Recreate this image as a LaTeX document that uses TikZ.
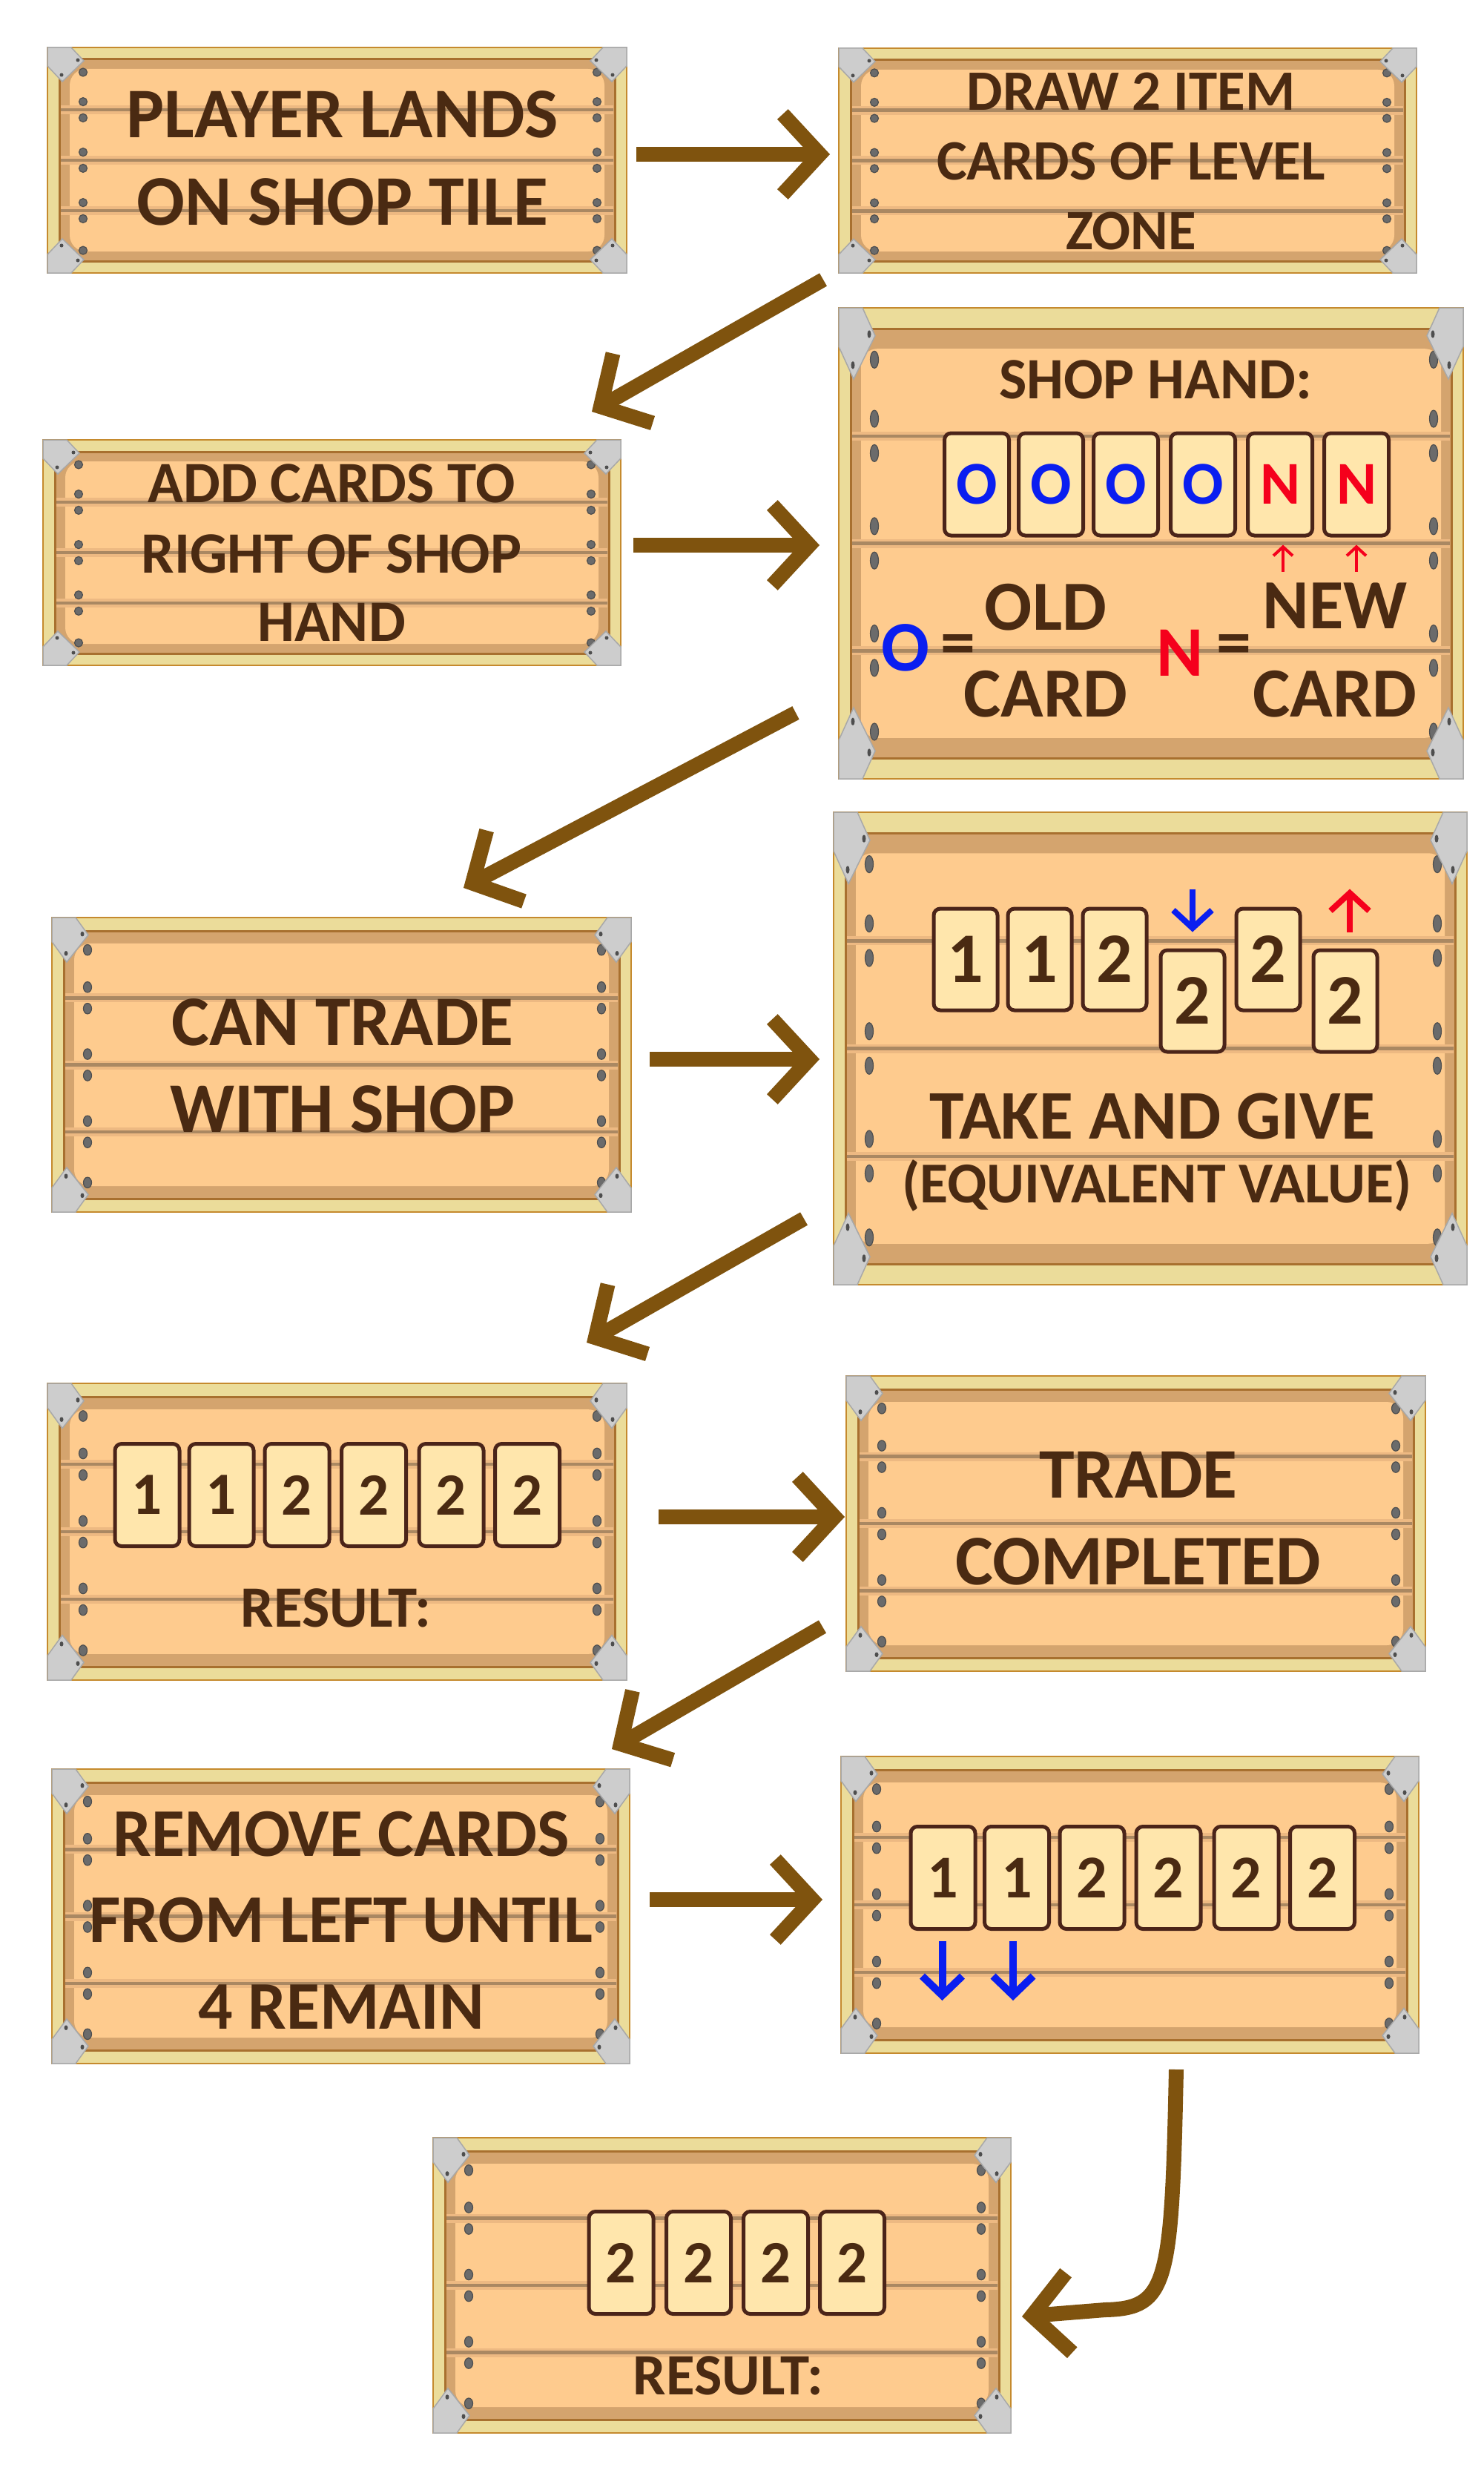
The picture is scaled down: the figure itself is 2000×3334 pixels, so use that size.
\documentclass[tikz,border=0pt]{standalone}
\usepackage{fontspec}
\setmainfont{Carlito}
\usetikzlibrary{arrows.meta,calc}
\definecolor{framefill}{HTML}{EBDC9A}
\definecolor{frameedge}{HTML}{C58A2E}
\definecolor{rimcol}{HTML}{D4A46E}
\definecolor{boardcol}{HTML}{FECB8E}
\definecolor{plankcol}{HTML}{AA8862}
\definecolor{halocol}{HTML}{EDB982}
\definecolor{innercol}{HTML}{A8702F}
\definecolor{nailcol}{HTML}{6B6B6B}
\definecolor{naildark}{HTML}{4E4E4E}
\definecolor{brackcol}{HTML}{CDCDCD}
\definecolor{brackedge}{HTML}{A8A8A8}
\definecolor{textbrown}{HTML}{4A2A12}
\definecolor{cardfill}{HTML}{FFE6AC}
\definecolor{cardedge}{HTML}{4B2419}
\definecolor{arrowbrown}{HTML}{7F530E}
\definecolor{cardblue}{HTML}{0A1EF0}
\definecolor{cardred}{HTML}{F5001C}

\newcommand{\wbfont}[1]{\fontsize{#1pt}{#1pt}\selectfont\bfseries}

\newcommand{\wbbracket}[4]{%
  \begin{scope}[shift={(#1,#2)}, xscale=#3, yscale=#4]
    \filldraw[fill=brackcol, draw=brackedge, line width=1.5pt] (0,0) -- (32,0) -- (49,18) -- (20,46) -- (0,25) -- cycle;
    \fill[naildark] (41,17) circle (2.5);
    \fill[naildark] (19,37) circle (2.5);
  \end{scope}}

\newcommand{\wbnail}[2]{\filldraw[fill=nailcol, draw=naildark, line width=1.2pt] (#1,#2) ellipse [x radius=5.5, y radius=\wbny];}

\newcommand{\woodboard}[6]{%
  \pgfmathsetmacro{\wbW}{#4-#2}%
  \pgfmathsetmacro{\wbH}{#5-#3}%
  \pgfmathsetmacro{\wbs}{\wbH/304}%
  \pgfmathsetmacro{\wbms}{-\wbs}%
  \pgfmathsetmacro{\wbix}{#2+16}%
  \pgfmathsetmacro{\wbiX}{#4-16}%
  \pgfmathsetmacro{\wbiy}{#3+#6}%
  \pgfmathsetmacro{\wbiY}{#5-#6}%
  \pgfmathsetmacro{\wbph}{(\wbiY-\wbiy)/4}%
  \pgfmathsetmacro{\wbny}{5.5*\wbs}%
  \filldraw[fill=framefill, draw=frameedge, line width=2pt] (#2,#3) rectangle (#4,#5);
  \fill[rimcol] (\wbix,\wbiy) rectangle (\wbiX,\wbiY);
  \fill[boardcol, rounded corners=22pt] (\wbix+14,\wbiy+13*\wbs) rectangle (\wbiX-14,\wbiY-13*\wbs);
  \draw[innercol, line width=3pt] (\wbix,\wbiy) rectangle (\wbiX,\wbiY);
  \foreach \k in {1,2,3}{%
    \pgfmathsetmacro{\wbly}{\wbiy+\k*\wbph}%
    \pgfmathsetmacro{\wbla}{\wbly-0.16*\wbph}%
    \pgfmathsetmacro{\wblb}{\wbly+0.16*\wbph}%
    \draw[halocol, line width=12pt] (\wbix+2,\wbly) -- (\wbiX-2,\wbly);
    \draw[plankcol, line width=4.5pt] (\wbix+2,\wbly) -- (\wbiX-2,\wbly);
    \wbnail{#2+48}{\wbla}\wbnail{#2+48}{\wblb}%
    \wbnail{#4-40}{\wbla}\wbnail{#4-40}{\wblb}%
  }%
  \wbnail{#2+48}{#3+0.11*\wbH}\wbnail{#4-40}{#3+0.11*\wbH}%
  \wbnail{#2+48}{#5-0.1*\wbH}\wbnail{#4-40}{#5-0.1*\wbH}%
  \wbbracket{#2}{#3}{1}{\wbs}%
  \wbbracket{#4}{#3}{-1}{\wbs}%
  \wbbracket{#2}{#5}{1}{\wbms}%
  \wbbracket{#4}{#5}{-1}{\wbms}%
  \node[inner sep=0pt, outer sep=0pt, minimum width=\wbW pt, minimum height=\wbH pt] (#1) at ({(#2+#4)/2},{(#3+#5)/2}) {};
}

\begin{document}
\begin{tikzpicture}[x=1pt,y=-1pt,
  wbtext/.style={anchor=base, inner sep=0pt, text=textbrown},
  card/.style={draw=cardedge, fill=cardfill, line width=5pt, rounded corners=9pt, inner sep=0pt,
    minimum width=87pt, minimum height=138pt, text=textbrown},
  bigarrow/.style={draw=arrowbrown, line width=20pt, -{Straight Barb[length=50pt,width=108pt,sharp]}},
  bluearrow/.style={draw=cardblue, line width=8pt, -{Straight Barb[length=24pt,width=52pt,sharp]}},
  bluearrowb/.style={draw=cardblue, line width=10pt, -{Straight Barb[length=26pt,width=54pt,sharp]}},
  redarrow/.style={draw=cardred, line width=8pt, -{Straight Barb[length=24pt,width=52pt,sharp]}},
  redsmall/.style={draw=cardred, line width=4pt, -{Straight Barb[length=12pt,width=26pt,sharp]}}]

\fill[white] (0,0) rectangle (2000,3334);
\useasboundingbox (0,0) rectangle (2000,3334);

% ---------- boards ----------
\woodboard{b1}{64}{64}{845}{368}{16}
\woodboard{b2}{1131}{65}{1910}{368}{16}
\woodboard{b3}{58}{593}{837}{897}{16}
\woodboard{b4}{1131}{415}{1973}{1050}{28}
\woodboard{b5}{70}{1237}{851}{1634}{18}
\woodboard{b6}{1124}{1095}{1978}{1732}{28}
\woodboard{b7}{64}{1865}{845}{2265}{18}
\woodboard{b8}{1141}{1855}{1922}{2253}{18}
\woodboard{b9}{70}{2385}{849}{2782}{18}
\woodboard{b10}{1134}{2368}{1913}{2768}{18}
\woodboard{b11}{584}{2882}{1363}{3280}{18}

% ---------- texts ----------
\node[wbtext, font=\wbfont{96}] (t1a) at (462,186) {PLAYER LANDS};
\node[wbtext, font=\wbfont{96}] (t1b) at (462,303) {ON SHOP TILE};

\node[wbtext, font=\wbfont{77}] (t2a) at (1525,149) {DRAW 2 ITEM};
\node[wbtext, font=\wbfont{77}] (t2b) at (1525,243) {CARDS OF LEVEL};
\node[wbtext, font=\wbfont{77}] (t2c) at (1525,336) {ZONE};

\node[wbtext, font=\wbfont{79}] (t3a) at (447,677) {ADD CARDS TO};
\node[wbtext, font=\wbfont{79}] (t3b) at (447,772) {RIGHT OF SHOP};
\node[wbtext, font=\wbfont{79}] (t3c) at (447,864) {HAND};

\node[wbtext, font=\wbfont{79}] (t4a) at (1558,537) {SHOP HAND:};
\foreach \cx/\t/\c [count=\i] in {1317/O/cardblue, 1417/O/cardblue, 1518/O/cardblue, 1622/O/cardblue, 1726/N/cardred, 1829/N/cardred}
  {\node[card, text=\c, font=\wbfont{82}] (c4\i) at (\cx,653) {\t};}
\draw[redsmall] ($(c45.south)+(4,46)$) -- ($(c45.south)+(4,10)$);
\draw[redsmall] ($(c46.south)+(0,46)$) -- ($(c46.south)+(0,10)$);
\node[wbtext, font=\wbfont{96}, text=cardblue] (t4o) at (1221,904) {O};
\node[inner sep=0pt, text=textbrown, font=\wbfont{94}] (t4e1) at (1292,877) {=};
\node[wbtext, font=\wbfont{95}] (t4b) at (1410,849) {OLD};
\node[wbtext, font=\wbfont{95}] (t4c) at (1410,966) {CARD};
\node[wbtext, font=\wbfont{96}, text=cardred] (t4n) at (1591,911) {N};
\node[inner sep=0pt, text=textbrown, font=\wbfont{94}] (t4e2) at (1664,877) {=};
\node[wbtext, font=\wbfont{95}] (t4d) at (1800,847) {NEW};
\node[wbtext, font=\wbfont{95}] (t4f) at (1800,966) {CARD};

\node[wbtext, font=\wbfont{96}] (t5a) at (462,1409) {CAN TRADE};
\node[wbtext, font=\wbfont{96}] (t5b) at (462,1526) {WITH SHOP};

\foreach \cx/\cy/\t [count=\i] in {1302/1293.5/1, 1402/1293.5/1, 1503/1293.5/2, 1608/1349.5/2, 1710/1293.5/2, 1814/1349.5/2}
  {\node[card, font=\wbfont{96}, minimum width=86pt, minimum height=137pt] (c6\i) at (\cx,\cy) {\t};}
\draw[bluearrow] ($(c64.north)+(0,-80)$) -- ($(c64.north)+(0,-22)$);
\draw[redarrow] ($(c66.north)+(6,-22)$) -- ($(c66.north)+(6,-80)$);
\node[wbtext, font=\wbfont{94}] (t6a) at (1554,1535) {TAKE AND GIVE};
\node[wbtext, font=\wbfont{78}] (t6b) at (1560,1621) {(EQUIVALENT VALUE)};

\foreach \cx/\t [count=\i] in {198.5/1, 298.5/1, 400.5/2, 504/2, 608.5/2, 711/2}
  {\node[card, font=\wbfont{81}] (c7\i) at (\cx,2015.5) {\t};}
\node[wbtext, font=\wbfont{79}] (t7a) at (453,2193) {RESULT:};

\node[wbtext, font=\wbfont{96}] (t8a) at (1535,2019) {TRADE};
\node[wbtext, font=\wbfont{96}] (t8b) at (1535,2136) {COMPLETED};

\node[wbtext, font=\wbfont{92}] (t9a) at (460,2502) {REMOVE CARDS};
\node[wbtext, font=\wbfont{92}] (t9b) at (460,2618) {FROM LEFT UNTIL};
\node[wbtext, font=\wbfont{92}] (t9c) at (460,2735) {4 REMAIN};

\foreach \cx/\t [count=\i] in {1271.5/1, 1371/1, 1472.5/2, 1575.5/2, 1680.5/2, 1783/2}
  {\node[card, font=\wbfont{82}] (c10\i) at (\cx,2531.5) {\t};}
\draw[bluearrowb] ($(c101.south)+(-1,14)$) -- ($(c101.south)+(-1,94)$);
\draw[bluearrowb] ($(c102.south)+(-5,14)$) -- ($(c102.south)+(-5,94)$);

\foreach \cx/\t [count=\i] in {837.5/2, 942/2, 1046/2, 1149/2}
  {\node[card, font=\wbfont{81}] (c11\i) at (\cx,3050.5) {\t};}
\node[wbtext, font=\wbfont{79}] (t11a) at (982,3228) {RESULT:};

% ---------- connectors ----------
\draw[bigarrow] ($(b1.east)+(13,-8)$) -- ($(b2.west)+(-12,-8.5)$);
\draw[bigarrow] ($(b2.south west)+(-21,9)$) -- ($(b3.north east)+(-39,-38)$);
\draw[bigarrow] ($(b3.east)+(17,-10)$) -- ($(b4.west)+(-26,2.5)$);
\draw[bigarrow] ($(b4.south west)+(-58,-89)$) -- ($(b5.north east)+(-226,-40)$);
\draw[bigarrow] ($(b5.east)+(25,-7.5)$) -- ($(b6.west)+(-19,14.5)$);
\draw[bigarrow] ($(b6.south west)+(-40,-89)$) -- ($(b7.north east)+(-54,-55)$);
\draw[bigarrow] ($(b7.east)+(43,-20)$) -- ($(b8.west)+(-2,-9)$);
\draw[bigarrow] ($(b8.south west)+(-32,-60)$) -- ($(b9.north east)+(-24,-27)$);
\draw[bigarrow] ($(b9.east)+(27,-22.5)$) -- ($(b10.west)+(-25,-7)$);
\coordinate (a10s) at ($(b10.south)+(62.5,22)$);
\coordinate (a10e) at ($(b11.east)+(15,42)$);
\draw[bigarrow] (a10s) .. controls ($(a10s)+(-6,290)$) and ($(a10s)+(-11,322)$) .. ($(a10s)+(-96,324)$) -- (a10e);
\end{tikzpicture}
\end{document}
